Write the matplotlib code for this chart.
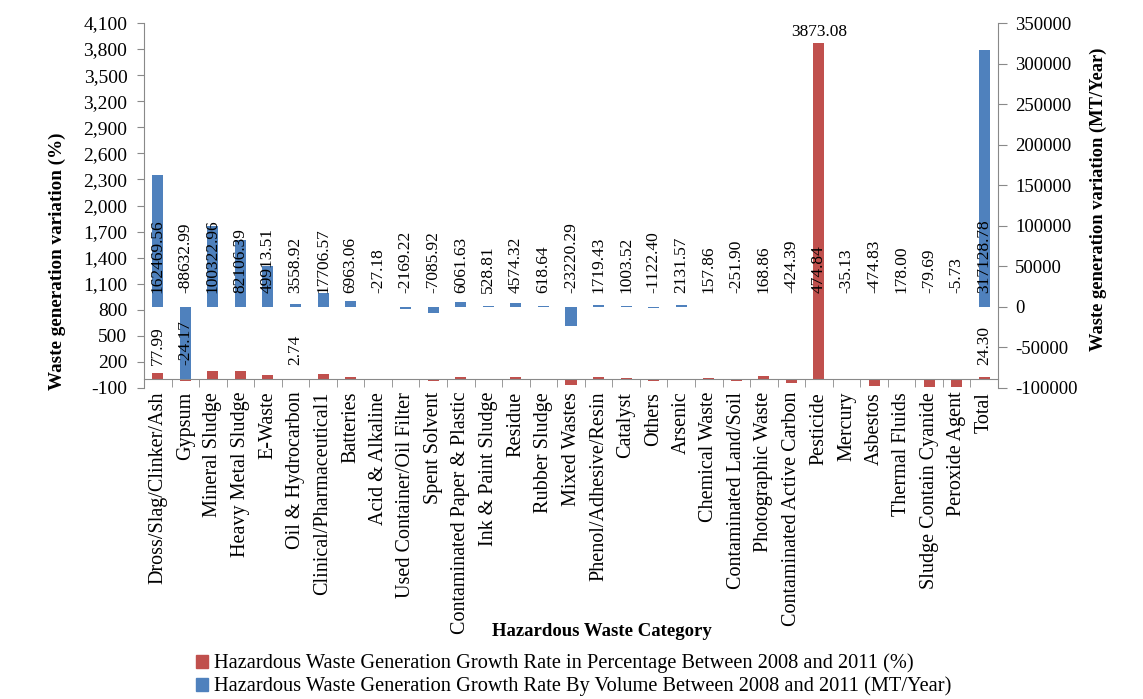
import matplotlib
matplotlib.use('Agg')
import matplotlib.pyplot as plt
import matplotlib.transforms as mtransforms
from matplotlib.patches import Patch
from matplotlib.ticker import FuncFormatter
import numpy as np

categories = ["Dross/Slag/Clinker/Ash", "Gypsum", "Mineral Sludge", "Heavy Metal Sludge",
              "E-Waste", "Oil & Hydrocarbon", "Clinical/Pharmaceutical1", "Batteries",
              "Acid & Alkaline", "Used Container/Oil Filter", "Spent Solvent",
              "Contaminated Paper & Plastic", "Ink & Paint Sludge", "Residue", "Rubber Sludge",
              "Mixed Wastes", "Phenol/Adhesive/Resin", "Catalyst", "Others", "Arsenic",
              "Chemical Waste", "Contaminated Land/Soil", "Photographic Waste",
              "Contaminated Active Carbon", "Pesticide", "Mercury", "Asbestos",
              "Thermal Fluids", "Sludge Contain Cyanide", "Peroxide Agent", "Total"]

# growth rate in percentage (left axis)
pct_values = [77.99, -24.17, 100, 92, 46, 2.74, 65, 22, 2, 3, -19, 31, 2, 31, 2,
              -65, 27, 19, -15, 2, 12, -17, 42, -46, 3873.08, -3, -73, 2, -92, -92, 24.30]

# growth by volume (right axis)
vol_values = [162469.56, -88632.99, 100322.96, 82106.39, 49913.51, 3558.92, 17706.57,
              6963.06, -27.18, -2169.22, -7085.92, 6061.63, 528.81, 4574.32, 618.64,
              -23220.29, 1719.43, 1003.52, -1122.40, 2131.57, 157.86, -251.90, 168.86,
              -424.39, 474.84, -35.13, -474.83, 178.00, -79.69, -5.73, 317128.78]

pct_base_labelled = [0, 1, 5, 30]
pct_top_labelled = [24]

legend_labels = ["Hazardous Waste Generation Growth Rate in Percentage Between 2008 and 2011 (%)",
                 "Hazardous Waste Generation Growth Rate By Volume Between 2008 and 2011 (MT/Year)"]

plt.rcParams['font.family'] = ['Liberation Serif', 'DejaVu Serif']

RED = '#C0504D'
BLUE = '#4F81BD'
GREY = '#898989'
W, H = 1143, 699

fig = plt.figure(figsize=(W / 100, H / 100), dpi=100)
ax = fig.add_axes([144 / W, 1 - 388 / H, (998 - 144) / W, (388 - 23) / H])
ax2 = ax.twinx()

x = np.arange(len(categories))
ax.bar(x, pct_values, width=0.4, color=RED, zorder=2)
ax2.bar(x, vol_values, width=0.4, color=BLUE, zorder=2)

ax.set_xlim(-0.5, len(categories) - 0.5)
ax.set_ylim(-100, 4100)
ax.set_yticks(np.arange(-100, 4101, 300))
ax.yaxis.set_major_formatter(FuncFormatter(lambda v, p: f'{v:,.0f}'))
ax2.set_ylim(-100000, 350000)
ax2.set_yticks(np.arange(-100000, 350001, 50000))
ax2.yaxis.set_major_formatter(FuncFormatter(lambda v, p: f'{v:.0f}'))

for s in ['top', 'right']:
    ax.spines[s].set_visible(False)
for s in ['top', 'left', 'bottom']:
    ax2.spines[s].set_visible(False)
ax.spines['left'].set_color(GREY)
ax.spines['bottom'].set_color(GREY)
ax.spines['bottom'].set_position(('data', 0))
ax2.spines['right'].set_color(GREY)

ax.set_xticks(x)
ax.set_xticklabels(categories, rotation=90, fontsize=14.5)
ax.set_xticks(np.arange(-0.5, len(categories)), minor=True)
ax.tick_params(axis='x', which='major', length=0, pad=9)
ax.tick_params(axis='x', which='minor', length=6, color=GREY, direction='out')
ax.tick_params(axis='y', length=5, color=GREY, labelsize=14, pad=7)
ax2.tick_params(axis='y', length=6.5, color=GREY, labelsize=13.5, pad=6)

# labels
base_off = mtransforms.offset_copy(ax2.transData, fig=fig, x=0, y=14, units='dots')
for i, v in enumerate(vol_values):
    ax2.text(x[i], 0, f'{v:.2f}', rotation=90, ha='center', va='bottom',
             fontsize=12.5, transform=base_off, zorder=5)
red_off = mtransforms.offset_copy(ax.transData, fig=fig, x=0, y=14, units='dots')
for i in pct_base_labelled:
    ax2.text(x[i], 0, f'{pct_values[i]:.2f}', rotation=90, ha='center', va='bottom',
             fontsize=12.5, transform=red_off, zorder=5)
top_off = mtransforms.offset_copy(ax.transData, fig=fig, x=0, y=3, units='dots')
for i in pct_top_labelled:
    ax2.text(x[i], pct_values[i], f'{pct_values[i]:.2f}', ha='center', va='bottom',
             fontsize=12.5, transform=top_off, zorder=5)

fig.text(57 / W, 1 - 261 / H, 'Waste generation variation (%)', rotation=90,
         ha='center', va='center', fontsize=13.8, fontweight='bold')
fig.text(1098 / W, 1 - 199 / H, 'Waste generation variation (MT/Year)', rotation=90,
         ha='center', va='center', fontsize=13.3, fontweight='bold')
fig.text(602 / W, 1 - 632 / H, 'Hazardous Waste Category', ha='center', va='center',
         fontsize=13.5, fontweight='bold')

handles = [Patch(color=RED), Patch(color=BLUE)]
fig.legend(handles, legend_labels, loc='center left',
           bbox_to_anchor=(196 / W, 1 - 675 / H), frameon=False, fontsize=14.7,
           handlelength=0.6, handleheight=0.6, handletextpad=0.3, labelspacing=0.15,
           borderpad=0, borderaxespad=0)

fig.savefig('out.png', dpi=100)
